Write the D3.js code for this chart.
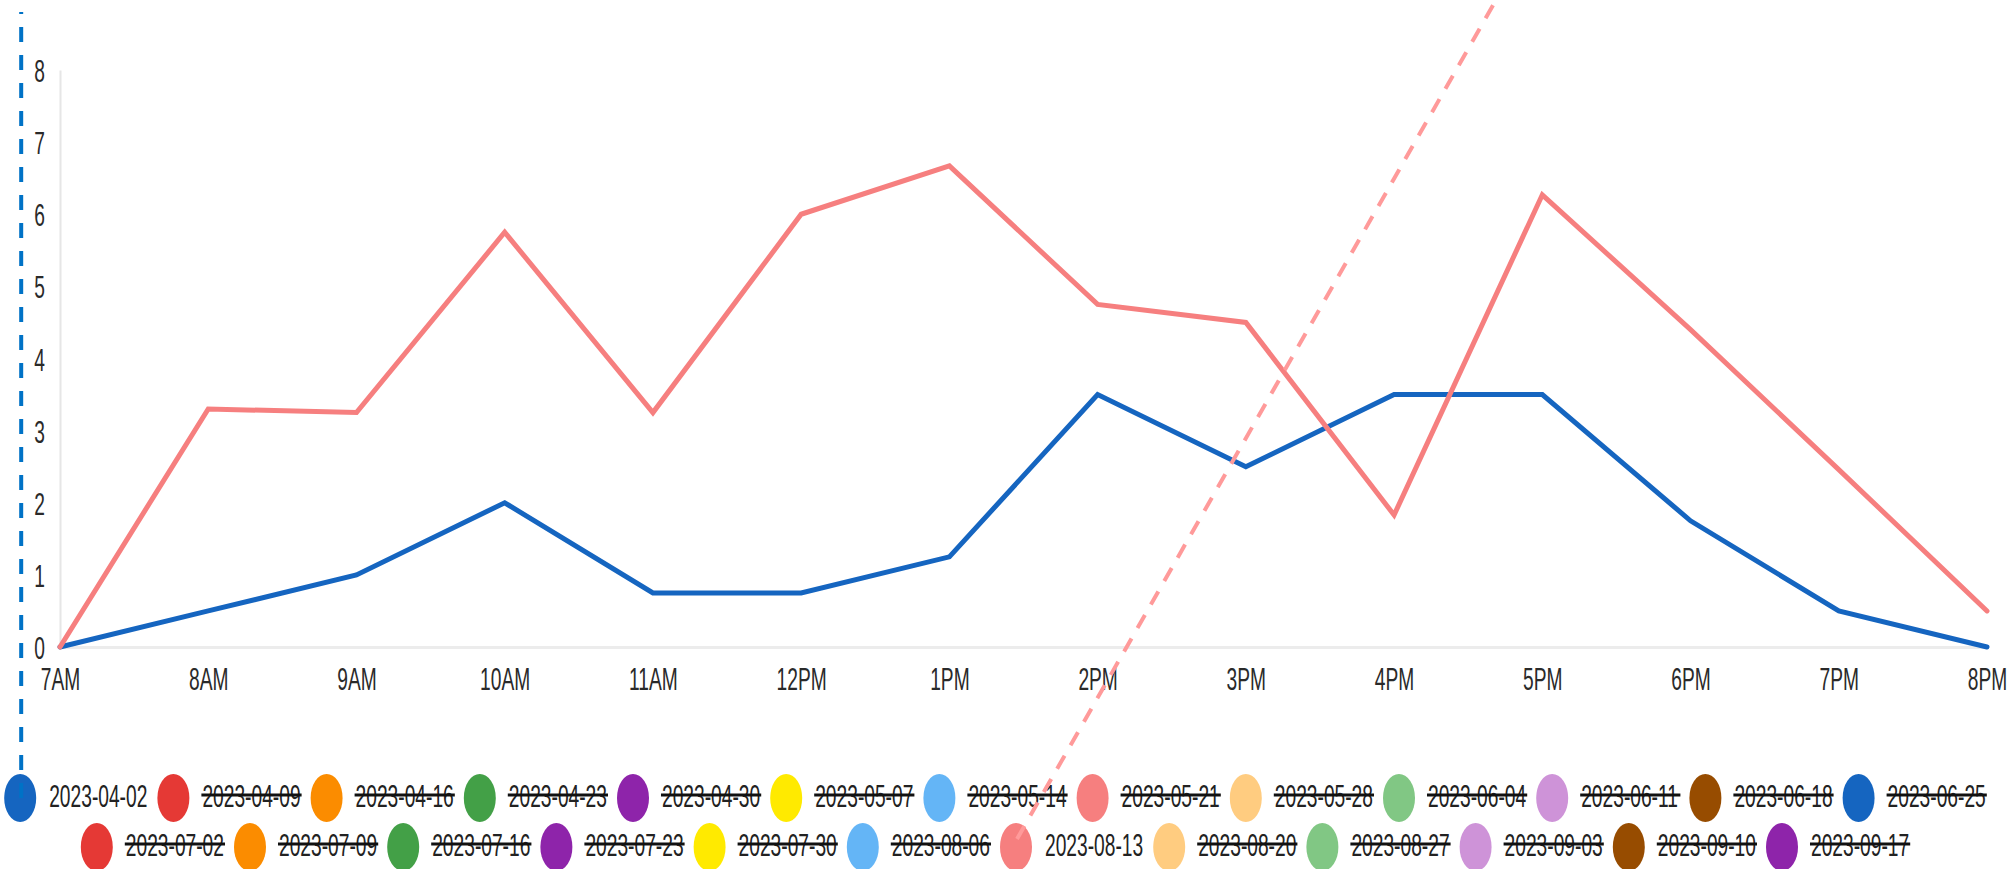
<!DOCTYPE html>
<html>
<head>
<meta charset="utf-8">
<script src="https://cdn.jsdelivr.net/npm/d3@7"></script>
<style>
  html, body { margin: 0; padding: 0; background: #fff; overflow: hidden; }
  svg { display: block; }
  text { font-family: "Liberation Sans", Arial, sans-serif; }
</style>
</head>
<body>
<svg id="chart" width="2013" height="869"></svg>
<script>
// Hourly categories along the x axis
const hours = ["7AM", "8AM", "9AM", "10AM", "11AM", "12PM", "1PM", "2PM", "3PM", "4PM", "5PM", "6PM", "7PM", "8PM"];

// Y axis tick labels
const yTicks = [0, 1, 2, 3, 4, 5, 6, 7, 8];

// One series per week; only two are switched on
const seriesDates = [
  "2023-04-02", "2023-04-09", "2023-04-16", "2023-04-23", "2023-04-30", "2023-05-07", "2023-05-14",
  "2023-05-21", "2023-05-28", "2023-06-04", "2023-06-11", "2023-06-18", "2023-06-25",
  "2023-07-02", "2023-07-09", "2023-07-16", "2023-07-23", "2023-07-30", "2023-08-06",
  "2023-08-13", "2023-08-20", "2023-08-27", "2023-09-03", "2023-09-10", "2023-09-17"
];
const seriesColors = [
  "#1565c0", "#e53935", "#fb8c00", "#43a047", "#8e24aa", "#ffea00", "#64b5f6",
  "#f67f7f", "#ffcc80", "#81c784", "#ce93d8", "#974c00", "#1565c0",
  "#e53935", "#fb8c00", "#43a047", "#8e24aa", "#ffea00", "#64b5f6",
  "#f67f7f", "#ffcc80", "#81c784", "#ce93d8", "#974c00", "#8e24aa"
];
const visibleSeries = ["2023-04-02", "2023-08-13"];

// Values of the visible series, one per hour
const values_2023_04_02 = [0, 0.5, 1, 2, 0.75, 0.75, 1.25, 3.5, 2.5, 3.5, 3.5, 1.75, 0.5, 0];
const values_2023_08_13 = [0, 3.3, 3.25, 5.75, 3.25, 6, 6.67, 4.75, 4.5, 1.83, 6.27, 4.4, 2.46, 0.5];

const seriesValues = {
  "2023-04-02": values_2023_04_02,
  "2023-08-13": values_2023_08_13
};

// ---- layout ----
const FONT = 32;        // font size of all labels
const SQUEEZE = 0.6;    // horizontal glyph scale (condensed look)
const plot = { left: 60, right: 1987, top: 70, bottom: 647 };

const svg = d3.select("#chart");

const x = d3.scalePoint().domain(hours).range([plot.left, plot.right]);
const y = d3.scaleLinear().domain([0, 8]).range([plot.bottom, plot.top]);

// x axis
const xAxis = svg.append("g")
  .attr("transform", `translate(0,${plot.bottom})`)
  .call(d3.axisBottom(x).tickSize(0).tickSizeOuter(0));
xAxis.select(".domain").attr("stroke", "#ececec").attr("stroke-width", 3);
xAxis.selectAll(".tick text")
  .attr("y", 43).attr("dy", 0).attr("x", 0)
  .attr("transform", `scale(${SQUEEZE},1)`)
  .attr("font-size", FONT)
  .attr("font-family", "Liberation Sans, Arial, sans-serif")
  .attr("fill", "#2a2a2a");

// y axis
const yAxis = svg.append("g")
  .attr("transform", `translate(${plot.left},0)`)
  .call(d3.axisLeft(y).tickValues(yTicks).tickFormat(d3.format("d")).tickSize(0).tickSizeOuter(0));
yAxis.select(".domain").attr("stroke", "#e6e6e6").attr("stroke-width", 2);
yAxis.selectAll(".tick text")
  .attr("x", -15 / SQUEEZE).attr("dy", "0.36em")
  .attr("text-anchor", "end")
  .attr("transform", `scale(${SQUEEZE},1)`)
  .attr("font-size", FONT)
  .attr("font-family", "Liberation Sans, Arial, sans-serif")
  .attr("fill", "#2a2a2a");

// series lines
const line = d3.line()
  .x((d, i) => x(hours[i]))
  .y(d => y(d));

svg.append("g").selectAll("path")
  .data(visibleSeries)
  .join("path")
  .attr("d", s => line(seriesValues[s]))
  .attr("fill", "none")
  .attr("stroke", s => seriesColors[seriesDates.indexOf(s)])
  .attr("stroke-width", 5)
  .attr("stroke-linejoin", "miter")
  .attr("stroke-linecap", "round");

// ---- legend ----
const legendRows = [seriesDates.slice(0, 13), seriesDates.slice(13)];
const rowY = [798, 847];
const itemStep = 153.2;
const rx = 16, ry = 24, textGap = 29;
const legendCenterX = 995;
const legend = svg.append("g");
const legendPos = {};

legendRows.forEach((row, r) => {
  // measure one label to centre the row
  const probe = legend.append("text").attr("font-size", FONT).text(row[0]);
  const textW = probe.node().getComputedTextLength() * SQUEEZE;
  probe.remove();
  const total = (row.length - 1) * itemStep + rx + textGap + textW;
  const start = legendCenterX - total / 2;

  const items = legend.append("g").selectAll("g")
    .data(row)
    .join("g")
    .attr("transform", (d, i) => `translate(${start + rx + i * itemStep},${rowY[r]})`);

  items.append("ellipse")
    .attr("rx", rx).attr("ry", ry)
    .attr("fill", d => seriesColors[seriesDates.indexOf(d)]);

  items.append("text")
    .attr("transform", `translate(${textGap},9) scale(${SQUEEZE},1)`)
    .attr("font-size", FONT)
    .attr("fill", "#222")
    .text(d => d);

  // hidden series are struck through
  items.filter(d => !visibleSeries.includes(d))
    .append("line")
    .attr("x1", textGap - 1)
    .attr("x2", textGap + textW + 1)
    .attr("y1", -3).attr("y2", -3)
    .attr("stroke", "#111")
    .attr("stroke-width", 3);

  row.forEach((d, i) => { legendPos[d] = { x: start + rx + i * itemStep, y: rowY[r] }; });
});

// dashed leader lines from the active legend markers
const blueStart = legendPos["2023-04-02"];
svg.append("line")
  .attr("x1", blueStart.x + 1).attr("y1", blueStart.y)
  .attr("x2", blueStart.x + 1).attr("y2", 12)
  .attr("stroke", "#0072c6")
  .attr("stroke-width", 4)
  .attr("stroke-dasharray", "15,13");

const pinkStart = legendPos["2023-08-13"];
const slope = 0.571; // horizontal run per vertical pixel
const py0 = pinkStart.y - 8;
const py1 = -20;
svg.append("line")
  .attr("x1", pinkStart.x + 1).attr("y1", py0)
  .attr("x2", pinkStart.x + 1 + slope * (py0 - py1)).attr("y2", py1)
  .attr("stroke", "#ff9a9a")
  .attr("stroke-width", 4)
  .attr("stroke-dasharray", "15,12");
</script>
</body>
</html>
